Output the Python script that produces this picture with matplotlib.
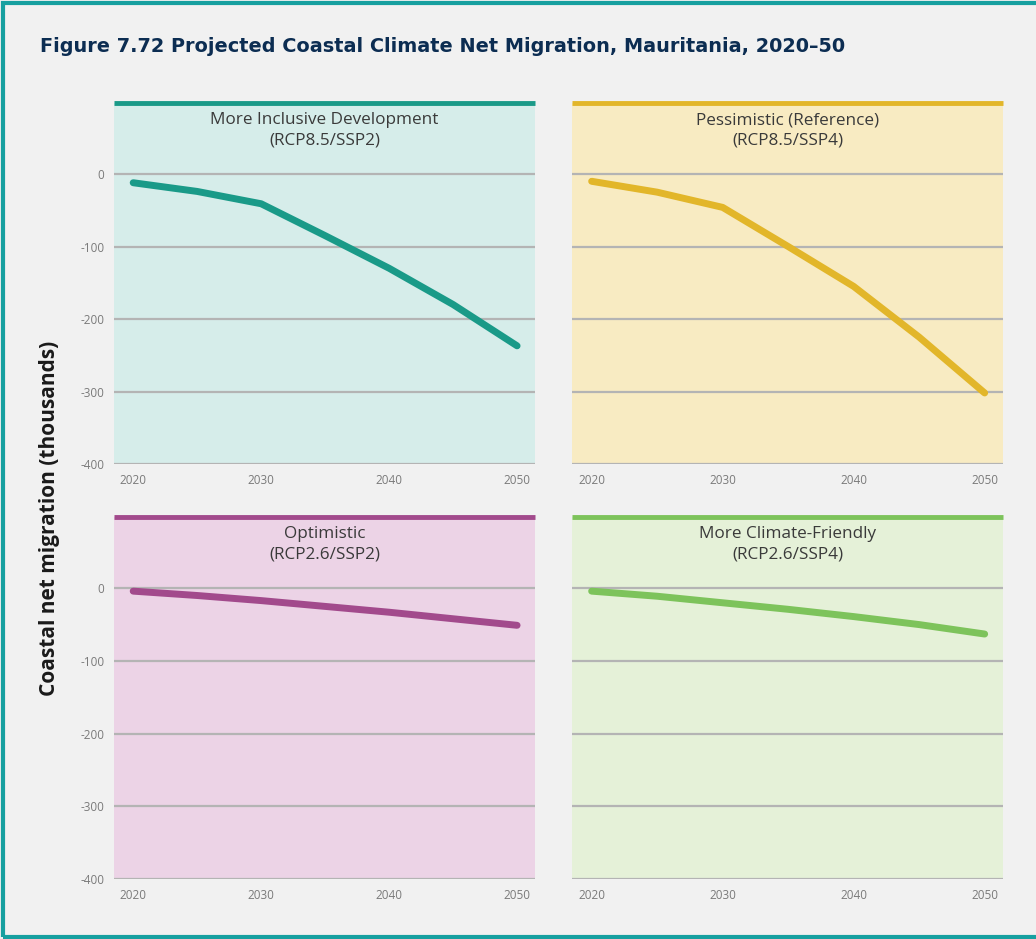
import matplotlib

matplotlib.use("Agg")
import matplotlib.pyplot as plt
from matplotlib.patches import Rectangle

W, H = 1036, 939
DPI = 100

years = [2020, 2025, 2030, 2035, 2040, 2045, 2050]

inclusive = [-12, -24, -41, -85, -130, -180, -237]
pessimistic = [-10, -25, -46, -100, -155, -225, -302]
optimistic = [-4, -10, -17, -25, -33, -42, -51]
climate_friendly = [-4, -11, -20, -29, -39, -50, -63]

titles = [
    "More Inclusive Development\n(RCP8.5/SSP2)",
    "Pessimistic (Reference)\n(RCP8.5/SSP4)",
    "Optimistic\n(RCP2.6/SSP2)",
    "More Climate-Friendly\n(RCP2.6/SSP4)",
]
series = [inclusive, pessimistic, optimistic, climate_friendly]
line_colors = ["#1a9a88", "#e2b62a", "#a24a8c", "#7dc35b"]
bg_colors = ["#d6edea", "#f8ebc2", "#ecd3e6", "#e5f1d8"]

y_ticks = [0, -100, -200, -300, -400]
x_ticks = [2020, 2030, 2040, 2050]

# panel boxes in pixels: left, right, top, bottom
boxes = [
    (114, 535, 103, 464),
    (572, 1003, 103, 464),
    (114, 535, 517, 879),
    (572, 1003, 517, 879),
]

TICK_COLOR = "#7a7a7a"
GRID_COLOR = "#b4b4b4"
TEXT_FONT = ["Open Sans", "DejaVu Sans"]


def px_rect(left, right, top, bottom):
    return [left / W, 1 - bottom / H, (right - left) / W, (bottom - top) / H]


def draw_panel(fig, box, values, title, lc, bg, show_y):
    ax = fig.add_axes(px_rect(*box))
    ax.set_facecolor(bg)
    ax.set_xlim(2018.5, 2051.4)
    ax.set_ylim(-400, 98)
    for y in y_ticks:
        ax.axhline(y, color=GRID_COLOR, lw=1.6, zorder=1)
    ax.axhline(98, color=lc, lw=3.5, zorder=3, clip_on=False, solid_capstyle="butt")
    ax.plot(years, values, color=lc, lw=5, solid_capstyle="round", zorder=4)
    for s in ax.spines.values():
        s.set_visible(False)
    ax.set_xticks(x_ticks)
    ax.set_xticklabels([str(t) for t in x_ticks], family=TEXT_FONT, fontsize=8.5, color=TICK_COLOR)
    ax.set_yticks(y_ticks)
    if show_y:
        ax.set_yticklabels([str(t) for t in y_ticks], family=TEXT_FONT, fontsize=8.5, color=TICK_COLOR)
    else:
        ax.set_yticklabels([])
    ax.tick_params(length=0, pad=7)
    top_px = box[2]
    ax.text(0.5, 1 - 9 / (box[3] - top_px), title, transform=ax.transAxes, ha="center", va="top",
            family=TEXT_FONT, fontsize=12.3, color="#3a3a3a", linespacing=1.38)
    return ax


def main():
    fig = plt.figure(figsize=(W / DPI, H / DPI), dpi=DPI)
    fig.patch.set_facecolor("#f1f1f1")

    # outer teal frame (right side runs off the picture)
    fig.add_artist(Rectangle((3 / W, 2 / H), 1.2, 1 - 5 / H, transform=fig.transFigure,
                             fill=False, edgecolor="#17a0a0", lw=3))

    fig.text(40 / W, 1 - 47 / H, "Figure 7.72 Projected Coastal Climate Net Migration, Mauritania, 2020\u201350",
             ha="left", va="center", fontsize=13.9, fontweight="heavy", color="#0c2d52",
             family=["DejaVu Sans"])

    for i, box in enumerate(boxes):
        draw_panel(fig, box, series[i], titles[i], line_colors[i], bg_colors[i], i % 2 == 0)

    fig.text(50 / W, 1 - 518 / H, "Coastal net migration (thousands)", rotation=90,
             ha="center", va="center", fontsize=15, fontweight="bold", color="#1a1a1a",
             family=TEXT_FONT)

    fig.savefig("out.png", dpi=DPI, facecolor=fig.get_facecolor())


if __name__ == "__main__":
    main()
